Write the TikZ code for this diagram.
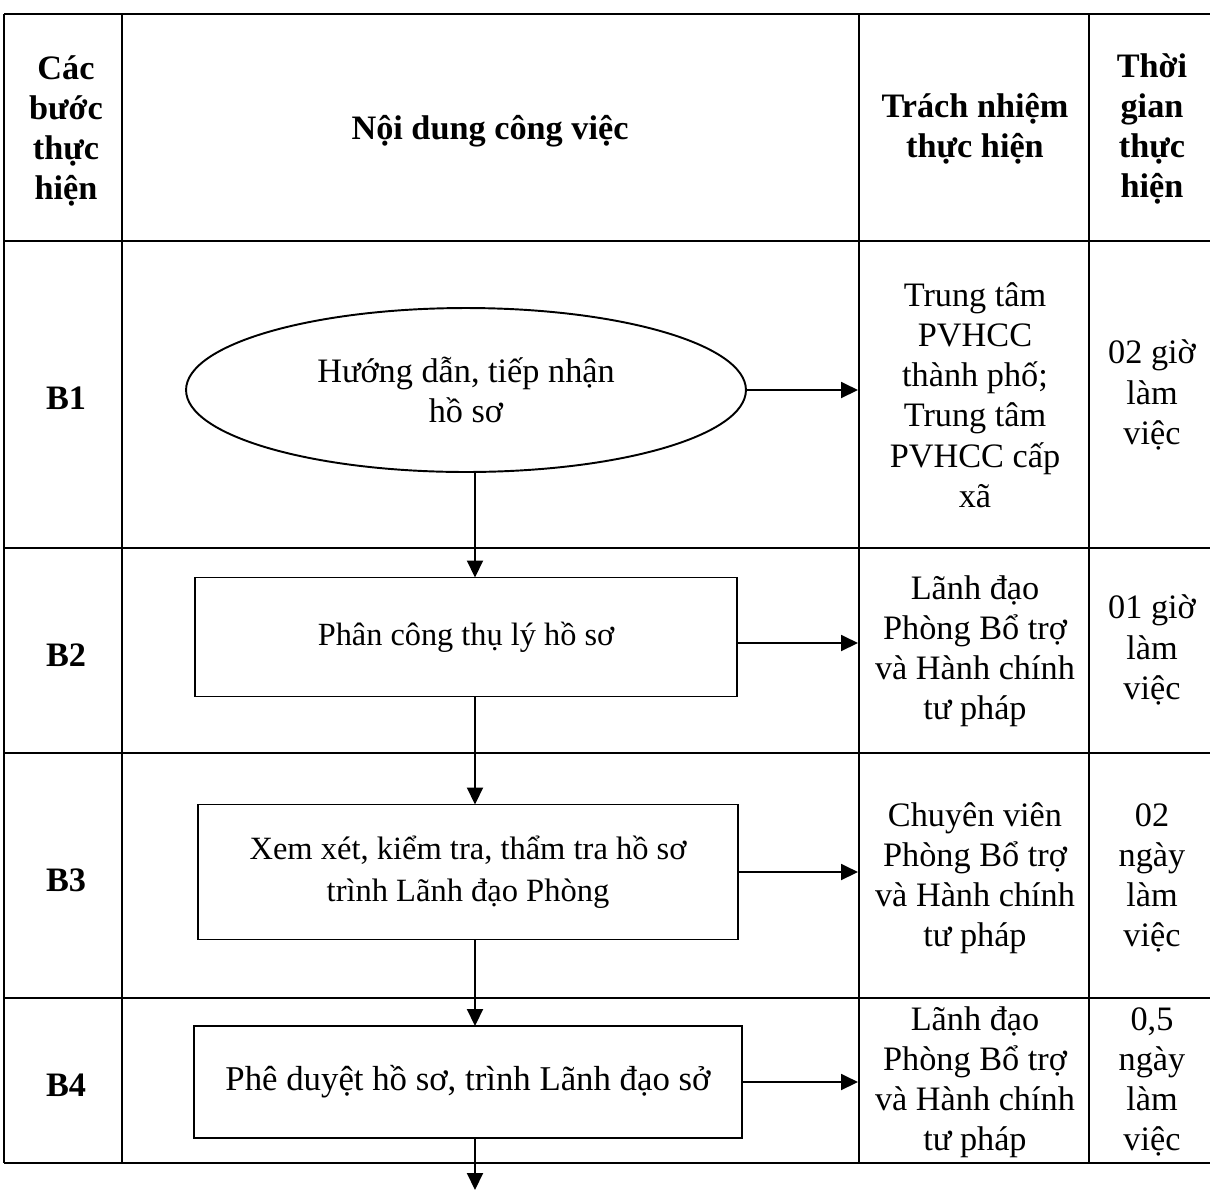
\documentclass[tikz,border=0pt]{standalone}
\usepackage{fontspec}
\setmainfont{Liberation Serif}
\usetikzlibrary{arrows.meta,calc,positioning,shapes.geometric}
\tikzset{
  txt/.style={align=center,font=\fontsize{19.5}{20.3}\selectfont},
  hd/.style={txt,font=\fontsize{19.5}{20.3}\selectfont\bfseries},
  stepbox/.style={draw,line width=1.1pt,rectangle,outer sep=0pt,txt},
  arr/.style={line width=1.1pt,-{Triangle[length=0.34cm,width=0.32cm]}},
  grid/.style={line width=1.1pt}
}
\begin{document}
\begin{tikzpicture}[x=0.02cm,y=-0.02cm]
\useasboundingbox (0,0) rectangle (1210,1191);
% table lines
\draw[grid,line width=1.5pt] (4,14) -- (1210,14);
\draw[grid,line width=1.5pt] (4,241) -- (1210,241);
\draw[grid] (4,548) -- (1210,548);
\draw[grid] (4,753) -- (1210,753);
\draw[grid] (4,998) -- (1210,998);
\draw[grid,line width=1.5pt] (4,1163) -- (1210,1163);
\draw[grid] (4,14) -- (4,1163);
\draw[grid] (122,14) -- (122,1163);
\draw[grid] (859,14) -- (859,1163);
\draw[grid] (1089,14) -- (1089,1163);
\coordinate (xa) at (475,0);
\coordinate (col3) at (858,0);
\coordinate (end) at (475,1190);
% header
\node[hd] (h1) at (66,131) {Các\\[0.09cm]bước\\[0.09cm]thực\\[0.09cm]hiện};
\node[hd] (h2) at (490,131) {Nội dung công việc};
\node[hd] (h3) at (975,129) {Trách nhiệm\\[0.09cm]thực hiện};
\node[hd] (h4) at (1152,129) {Thời\\[0.09cm]gian\\[0.09cm]thực\\[0.09cm]hiện};
% B1
\node[hd] (s1) at (66,398) {B1};
\node[draw,ellipse,line width=1.1pt,outer sep=0pt,minimum width=11.2cm,minimum height=3.28cm,txt] (ell) at (466,390) {Hướng dẫn, tiếp nhận\\[0.09cm]hồ sơ};
\node[txt] (r1) at (975,395) {Trung tâm\\[0.09cm]PVHCC\\[0.09cm]thành phố;\\[0.09cm]Trung tâm\\[0.09cm]PVHCC cấp\\[0.09cm]xã};
\node[txt] (t1) at (1152,395) {02 giờ\\[0.09cm]làm\\[0.09cm]việc};
% B2
\node[hd] (s2) at (66,655) {B2};
\node[stepbox,minimum width=10.86cm,minimum height=2.38cm,font=\fontsize{18.4}{20}\selectfont] (b2) at (466,637) {Phân công thụ lý hồ sơ};
\node[txt] (r2) at (975,651) {Lãnh đạo\\[0.09cm]Phòng Bổ trợ\\[0.09cm]và Hành chính\\[0.09cm]tư pháp};
\node[txt] (t2) at (1152,650) {01 giờ\\[0.09cm]làm\\[0.09cm]việc};
% B3
\node[hd] (s3) at (66,880) {B3};
\node[stepbox,minimum width=10.8cm,minimum height=2.7cm,font=\fontsize{18.5}{20}\selectfont] (b3) at (468,872) {Xem xét, kiểm tra, thẩm tra hồ sơ\\[0.14cm]trình Lãnh đạo Phòng};
\node[txt] (r3) at (975,878) {Chuyên viên\\[0.09cm]Phòng Bổ trợ\\[0.09cm]và Hành chính\\[0.09cm]tư pháp};
\node[txt] (t3) at (1152,878) {02\\[0.09cm]ngày\\[0.09cm]làm\\[0.09cm]việc};
% B4
\node[hd] (s4) at (66,1085) {B4};
\node[stepbox,minimum width=10.98cm,minimum height=2.24cm,font=\fontsize{19.8}{20.5}\selectfont] (b4) at (468,1082) {Phê duyệt hồ sơ, trình Lãnh đạo sở};
\node[txt] (r4) at (975,1082) {Lãnh đạo\\[0.09cm]Phòng Bổ trợ\\[0.09cm]và Hành chính\\[0.09cm]tư pháp};
\node[txt] (t4) at (1152,1082) {0,5\\[0.09cm]ngày\\[0.09cm]làm\\[0.09cm]việc};
% arrows
\draw[arr] (ell.east) -- (ell.east -| col3);
\draw[arr] ([yshift=-0.12cm]b2.east) -- ([yshift=-0.12cm]b2.east -| col3);
\draw[arr] (b3.east) -- (b3.east -| col3);
\draw[arr] (b4.east) -- (b4.east -| col3);
\draw[arr] (ell.south -| xa) -- (b2.north -| xa);
\draw[arr] (b2.south -| xa) -- (b3.north -| xa);
\draw[arr] (b3.south -| xa) -- (b4.north -| xa);
\draw[arr] (b4.south -| xa) -- (end);
\end{tikzpicture}
\end{document}
